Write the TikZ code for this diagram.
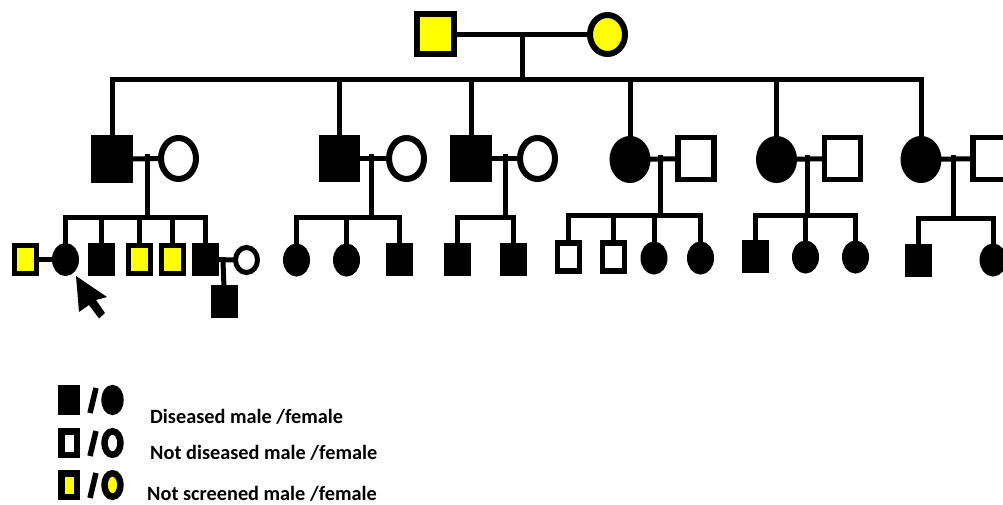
\documentclass[tikz,border=0pt]{standalone}
\usepackage{fontspec}
\setmainfont{Carlito}
\usetikzlibrary{shapes.geometric,backgrounds}
\definecolor{ylw}{RGB}{255,255,0}
\begin{document}
\begin{tikzpicture}[x=1pt,y=-1pt,
  ln/.style={line width=5pt,line cap=rect},
  g1sq/.style={rectangle,draw,line width=6pt,fill=ylw,minimum width=37pt,minimum height=40pt,inner sep=0pt},
  g1ci/.style={ellipse,draw,line width=6pt,fill=ylw,minimum width=35pt,minimum height=39pt,inner sep=0pt},
  g2sq/.style={rectangle,draw,line width=5.5pt,minimum width=36pt,minimum height=42pt,inner sep=0pt},
  g2ci/.style={ellipse,draw,line width=6pt,minimum width=35pt,minimum height=41pt,inner sep=0pt},
  g3sq/.style={rectangle,draw,line width=5pt,minimum width=22pt,minimum height=28pt,inner sep=0pt},
  g3ci/.style={ellipse,draw,line width=5pt,minimum width=22pt,minimum height=28pt,inner sep=0pt},
  lsq/.style={rectangle,draw,line width=6.5pt,minimum width=15.5pt,minimum height=23.5pt,inner sep=0pt},
  lci/.style={ellipse,draw,line width=6.5pt,minimum width=16pt,minimum height=23.5pt,inner sep=0pt},
  lslash/.style={line width=5.5pt},
  ltext/.style={anchor=west,inner sep=0pt,font=\bfseries\fontsize{20.3}{24}\selectfont}
]
\useasboundingbox (0,0) rectangle (1003,505);
\clip (0,0) rectangle (1003,505);

% generation 1
\node[g1sq] (P1) at (435.5,34.5) {};
\node[g1ci] (P2) at (607.5,34.5) {};
\coordinate (m0) at (522,34.5);
\coordinate (s0) at (522,80);

% generation 2
\node[g2sq,fill=black] (A1) at (112,159) {};
\node[g2ci,fill=white] (A2) at (178.5,158.5) {};
\node[g2sq,fill=black] (B1) at (339.5,158.5) {};
\node[g2ci,fill=white] (B2) at (406.5,158.5) {};
\node[g2sq,fill=black] (C1) at (471,158.5) {};
\node[g2ci,fill=white] (C2) at (537.5,158.5) {};
\node[g2ci,fill=black] (D1) at (630,159.5) {};
\node[g2sq,fill=white] (D2) at (696,158.5) {};
\node[g2ci,fill=black] (E1) at (776.5,159.5) {};
\node[g2sq,fill=white] (E2) at (842.5,158.5) {};
\node[g2ci,fill=black] (F1) at (921,159.5) {};
\node[g2sq,fill=white] (F2) at (991,158.5) {};
\coordinate (mA) at (147,157);
\coordinate (mB) at (371,157);
\coordinate (mC) at (505,157);
\coordinate (mD) at (660,158);
\coordinate (mE) at (807,158);
\coordinate (mF) at (953,158);
\coordinate (sA) at (147,217);
\coordinate (sB) at (371,217);
\coordinate (sC) at (505,217);
\coordinate (sD) at (660,215);
\coordinate (sE) at (807,215);
\coordinate (sF) at (953,218);

% generation 3 - family A
\node[g3sq,fill=ylw] (ya) at (25,259.5) {};
\node[g3ci,fill=black] (a1) at (65.5,259.5) {};
\node[g3sq,fill=black] (a2) at (101.5,259.5) {};
\node[g3sq,fill=ylw] (a3) at (139,259.5) {};
\node[g3sq,fill=ylw] (a4) at (172.5,259.5) {};
\node[g3sq,fill=black] (a5) at (205,259.5) {};
\node[g3ci,fill=white,minimum height=25pt] (wa) at (246.5,260) {};
\node[g3sq,fill=black] (ga) at (224.5,301.5) {};
\coordinate (mA2) at (223,261);
% family B
\node[g3ci,fill=black] (b1) at (296.5,260) {};
\node[g3ci,fill=black] (b2) at (346.5,260) {};
\node[g3sq,fill=black] (b3) at (399,259.5) {};
% family C
\node[g3sq,fill=black] (c1) at (457.5,259.5) {};
\node[g3sq,fill=black] (c2) at (513,259.5) {};
% family D
\node[g3sq,fill=white,line width=5.5pt] (d1) at (568.5,257) {};
\node[g3sq,fill=white,line width=5.5pt] (d2) at (613.5,257) {};
\node[g3ci,fill=black] (d3) at (654,258) {};
\node[g3ci,fill=black] (d4) at (700.5,258) {};
% family E
\node[g3sq,fill=black] (e1) at (755,256.5) {};
\node[g3ci,fill=black] (e2) at (805.5,257) {};
\node[g3ci,fill=black] (e3) at (855.5,257) {};
% family F
\node[g3sq,fill=black] (f1) at (918,260) {};
\node[g3ci,fill=black] (f2) at (993,260) {};

\begin{scope}[on background layer]
  % gen 1
  \draw[ln] (P1) -- (P2);
  \draw[ln] (m0) -- (s0);
  \draw[ln] (A1.center) -- (A1 |- s0) -- (F1 |- s0) -- (F1.center);
  \foreach \n in {B1,C1,D1,E1} \draw[ln] (\n.center) -- (\n |- s0);
  % gen 2 couples
  \draw[ln] (A1) -- (A2);
  \draw[ln] (B1) -- (B2);
  \draw[ln] (C1) -- (C2);
  \draw[ln] (D1) -- (D2);
  \draw[ln] (E1) -- (E2);
  \draw[ln] (F1) -- (F2);
  \draw[ln] (mA) -- (sA);
  \draw[ln] (mB) -- (sB);
  \draw[ln] (mC) -- (sC);
  \draw[ln] (mD) -- (sD);
  \draw[ln] (mE) -- (sE);
  \draw[ln] (mF) -- (sF);
  % family A
  \draw[ln] (a1.center) -- (a1 |- sA) -- (a5 |- sA) -- (a5.center);
  \foreach \n in {a2,a3,a4} \draw[ln] (\n.center) -- (\n |- sA);
  \draw[ln] (ya) -- (a1);
  \draw[ln] (a5) -- (wa);
  \draw[ln] (mA2) -- (ga);
  % family B
  \draw[ln] (b1.center) -- (b1 |- sB) -- (b3 |- sB) -- (b3.center);
  \draw[ln] (b2.center) -- (b2 |- sB);
  % family C
  \draw[ln] (c1.center) -- (c1 |- sC) -- (c2 |- sC) -- (c2.center);
  % family D
  \draw[ln] (d1.center) -- (d1 |- sD) -- (d4 |- sD) -- (d4.center);
  \foreach \n in {d2,d3} \draw[ln] (\n.center) -- (\n |- sD);
  % family E
  \draw[ln] (e1.center) -- (e1 |- sE) -- (e3 |- sE) -- (e3.center);
  \draw[ln] (e2.center) -- (e2 |- sE);
  % family F
  \draw[ln] (f1.center) -- (f1 |- sF) -- (f2 |- sF) -- (f2.center);
\end{scope}

% proband arrow
\fill[black] (76,276) -- (107,297) -- (96,300) -- (105,313) -- (99,318.5) -- (89,305) -- (79,312) -- cycle;

% legend
\node[lsq,fill=black] (L1s) at (69,400) {};
\draw[lslash] (90,413) -- (96,388);
\node[lci,fill=black] (L1c) at (112.5,400) {};
\node[lsq,fill=white] (L2s) at (69,443) {};
\draw[lslash] (90,456) -- (96,431);
\node[lci,fill=white] (L2c) at (112.5,443) {};
\node[lsq,fill=ylw] (L3s) at (69,485) {};
\draw[lslash] (90,498) -- (96,473);
\node[lci,fill=ylw] (L3c) at (112.5,485) {};
\node[ltext] (T1) at (150,417) {Diseased male /female};
\node[ltext] (T2) at (150,453) {Not diseased male /female};
\node[ltext] (T3) at (147,494) {Not screened male /female};
\end{tikzpicture}
\end{document}
